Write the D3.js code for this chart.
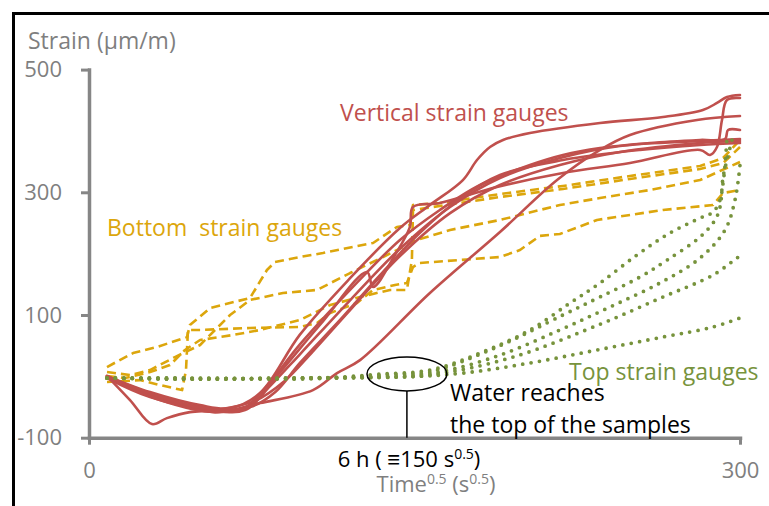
<!DOCTYPE html>
<html>
<head>
<meta charset="utf-8">
<script src="https://cdn.jsdelivr.net/npm/d3@7"></script>
<style>
  body { margin: 0; background: #fff; }
  svg { display: block; font-family: "Open Sans", sans-serif; }
</style>
</head>
<body>
<svg id="chart" width="769" height="506"></svg>
<script>
// x = time^0.5 (s^0.5), y = strain (µm/m)
const xTicks = [0, 300];
const yTicks = [500, 300, 100, -100];

// vertical strain gauges (red, solid)
const vert1 = [[8.3,0.4],[28.1,-25.6],[51.2,-46.9],[65,-51.8],[78.8,-27.3],[97.2,68],[120.3,160],[143.3,241.8],[157.1,279.3],[172.3,320],[178.8,352.6],[184.8,373.8],[190.8,385.3],[203.2,396.6],[235.5,413],[264.5,422.7],[282.9,434.1],[289.4,445.6],[294,455.3],[300,458.6]];
const vert2 = [[8.3,0.4],[28.1,-30.5],[51.2,-50.1],[69.6,-55],[81.1,-19.1],[97.2,52],[120.3,140.8],[143.3,222.3],[161.7,271.2],[180.2,311.9],[203.2,344.5],[218.4,360.8],[235.5,372.2],[258.5,380.4],[281.6,385.3],[293.1,386.9],[294.5,401.5],[300,401.5]];
const vert3 = [[8.3,-2.8],[28.1,-33.8],[55.8,-55],[71.9,-55],[83.4,-16],[97.2,36],[120.3,124],[143.3,208],[166.4,276],[189.4,323.3],[217,355.9],[244.7,375.5],[281.6,383.6],[300,386.9]];
const vert4 = [[8.3,0.4],[32.7,-35.4],[58.1,-58.3],[74.2,-46.9],[85.7,-2.8],[106.4,83.7],[128.1,170.1],[130.9,145.6],[141,197.8],[147.9,243.5],[149.3,276.1],[161.7,282.6],[188,308.6],[218.4,331.5],[249.3,347.7],[281.6,369],[286.2,360.8],[289.4,373.8],[291.7,417.8],[294,450.4],[300,453.7]];
const vert5 = [[8.3,0.4],[32.7,-38.7],[58.1,-58.3],[78.8,-43.6],[103.2,-22.4],[114.3,5.3],[124.9,26.5],[157.1,135.9],[189.4,235.3],[215.7,320],[235.5,369],[249.3,393.4],[280.2,417.8],[300,424.4]];
const vert6 = [[8.3,0.4],[18.9,-38.7],[29,-77.8],[35.9,-68.1],[46.5,-58.3],[58.1,-55],[76.5,-40],[90,-8],[103,40],[120.3,108],[143.3,196],[166.4,266],[189.4,311.9],[217,344.5],[244.7,365.7],[281.6,380.4],[300,383.6]];
const vert7 = [[8.3,0.4],[28.1,-27.3],[53.4,-51.8],[74.2,-50],[86,-25],[97.2,22],[115.7,92],[134.1,165],[152.5,234],[171,290],[189.4,328.2],[218.4,352.6],[253.9,369],[281.6,377.1],[300,380.4]];

// bottom strain gauges (gold, dashed)
const bot1 = [[8.3,15.2],[20.3,38],[31.3,47.8],[45.2,64.1],[46.5,83.7],[55.8,111.4],[74.2,127.7],[82,173.3],[85.7,186.4],[97.2,194.5],[107.8,201],[130.9,217.4],[141.9,243.5],[147.9,246.7],[149.3,279.3],[161.7,282.6],[189.4,297.2],[218.4,310.3],[249.3,326.6],[281.6,342.8],[292.2,355.9],[300,385.3]];
const bot2 = [[8.3,-9.3],[23.5,-6.1],[32.7,-14.2],[42.9,-22.4],[44.7,10.2],[45.6,75.6],[51.2,75.6],[74.2,78.8],[97.2,80.5],[105.1,87],[111.1,103.3],[123.5,119.6],[130.9,140.8],[141,148.9],[146.5,152.2],[149.3,178.2],[152.5,184.8],[189.4,194.5],[198.6,205.9],[207.8,229],[217,232.1],[234.1,254.9],[264.5,271.2],[287.6,279.3],[292.2,298.9],[300,303.7]];
const bot3 = [[8.3,7],[18.9,2.1],[28.1,10.2],[39.6,31.4],[51.2,51.1],[58.1,75.6],[65,100],[74.2,124.5],[89.4,135.9],[105.1,140.8],[120.3,168.4],[135.5,194.5],[151.1,222.3],[166.4,238.6],[189.4,254.9],[217,279.3],[235.5,290.7],[258.5,303.7],[281.6,320],[300,349.4]];
const bot4 = [[8.3,0.4],[16.6,-2.8],[28.1,7],[37.3,18.4],[44.2,42.9],[51.2,59.2],[66.4,67.4],[78.8,75.6],[97.2,91.8],[111.1,116.3],[124.9,129.4],[138.7,140.8],[146.5,140.8],[148.8,189.6],[149.3,271.2],[161.7,277.7],[189.4,292.3],[218.4,305.4],[249.3,321.7],[281.6,338],[292.2,347.7],[300,373.8]];

// top strain gauges (green, dotted)
const top1 = [[8.3,-2.8],[51.2,-4.5],[97.2,-2.8],[115.7,-1.2],[134.1,3.7],[157.1,10.2],[180.2,38],[203.2,75.6],[221.7,119.6],[235.5,152.2],[252.5,197.8],[267.7,233.7],[281.6,258.1],[287.6,267.9],[290.8,287.5],[292.2,315.2],[293.1,344.5],[294,388.5]];
const top2 = [[8.3,-2.8],[51.2,-2.8],[97.2,-4.5],[120.3,-1.2],[143.3,3.7],[157.1,7],[188,47.8],[218.4,100],[235.5,129.4],[253.9,161.9],[266.4,189.6],[281.6,227.2],[288.5,254.9],[290.8,276.1],[292.2,325],[294,352.6],[296.3,385.3]];
const top3 = [[8.3,-2.8],[51.2,-4.5],[97.2,-2.8],[134.1,-1.2],[157.1,2.1],[195.4,31.4],[236.9,87],[264.5,129.4],[287.6,165.2],[298.6,192.9],[300,196.1]];
const top4 = [[8.3,-2.8],[51.2,-4.5],[97.2,-2.8],[143.3,-1.2],[172.3,5.3],[203.2,21.8],[234.1,42.9],[264.5,64.1],[287.6,80.5],[300,95.1]];
const top5 = [[8.3,-2.8],[97.2,-2.8],[143.3,0.4],[161.7,7],[189.4,34.7],[217,75.6],[240.1,113.1],[263.1,152.2],[281.6,192.9],[293.1,238.6],[297.7,287.5],[300,344.5]];

const verticalGauges = [vert1, vert2, vert3, vert4, vert5, vert6, vert7];
const bottomGauges = [bot1, bot2, bot3, bot4];
const topGauges = [top1, top2, top3, top4, top5];

const red = "#C0504D", gold = "#DCA60C", green = "#77933C";
const axisColor = "#868686", textGray = "#7F7F7F";

const svg = d3.select("#chart");

const x = d3.scaleLinear().domain([0, 300]).range([89, 740]);
const y = d3.scaleLinear().domain([-100, 500]).range([437.7, 69.6]);

// outer frame (cut off at right and bottom)
svg.append("rect")
    .attr("x", 13.5).attr("y", 13.5)
    .attr("width", 900).attr("height", 700)
    .attr("fill", "none").attr("stroke", "#000").attr("stroke-width", 3);

// axes
const yAxis = d3.axisLeft(y).tickValues(yTicks).tickSizeInner(8).tickSizeOuter(0)
    .tickPadding(19).tickFormat(d => String(d));
const xAxis = d3.axisBottom(x).tickValues(xTicks).tickSizeInner(7).tickSizeOuter(0)
    .tickPadding(18).tickFormat(d => String(d));

const gy = svg.append("g").attr("transform", `translate(${x(0)},0)`).call(yAxis);
const gx = svg.append("g").attr("transform", `translate(0,${y(-100)})`).call(xAxis);

[gx, gy].forEach(g => {
    g.attr("font-family", null).attr("font-size", null);
    g.select(".domain").attr("stroke", axisColor).attr("stroke-width", 3.5).attr("stroke-linecap", "square");
    g.selectAll(".tick line").attr("stroke", axisColor).attr("stroke-width", 3);
    g.selectAll(".tick text").attr("fill", textGray).style("font-size", "22px");
});

// series
const line = d3.line().x(d => x(d[0])).y(d => y(d[1]));
const smooth = d3.line().x(d => x(d[0])).y(d => y(d[1])).curve(d3.curveCatmullRom.alpha(0.5));

svg.append("g").selectAll("path").data(bottomGauges).enter().append("path")
    .attr("d", line)
    .attr("fill", "none").attr("stroke", gold).attr("stroke-width", 2.6)
    .attr("stroke-dasharray", "9,5").attr("stroke-linejoin", "round");

svg.append("g").selectAll("path").data(verticalGauges).enter().append("path")
    .attr("d", smooth)
    .attr("fill", "none").attr("stroke", red).attr("stroke-width", 2.6)
    .attr("stroke-linejoin", "round").attr("stroke-linecap", "round");

svg.append("g").selectAll("path").data(topGauges).enter().append("path")
    .attr("d", smooth)
    .attr("fill", "none").attr("stroke", green).attr("stroke-width", 3.8)
    .attr("stroke-dasharray", "0,8.5").attr("stroke-linecap", "round");

// annotation: water reaches the top
svg.append("ellipse")
    .attr("cx", x(146.5)).attr("cy", y(4))
    .attr("rx", x(18.4) - x(0)).attr("ry", y(0) - y(27.7))
    .attr("fill", "none").attr("stroke", "#000").attr("stroke-width", 1.5);
svg.append("line")
    .attr("x1", x(146.5)).attr("x2", x(146.5))
    .attr("y1", y(4) + (y(0) - y(27.7))).attr("y2", y(-100))
    .attr("stroke", "#000").attr("stroke-width", 1.5);

// texts
const label = (tx, ty, txt, color, size, anchor) => svg.append("text")
    .attr("x", tx).attr("y", ty).attr("fill", color)
    .attr("text-anchor", anchor || "start")
    .style("font-size", size + "px").style("white-space", "pre")
    .text(txt);

label(28, 49, "Strain (µm/m)", textGray, 23);
label(340, 121, "Vertical strain gauges", red, 23);
label(107, 236, "Bottom  strain gauges", gold, 23);
label(569, 380, "Top strain gauges", green, 23);
label(450, 401, "Water reaches", "#000", 23);
label(450, 433, "the top of the samples", "#000", 23);

const sixH = label(409, 467, "6 h ( ≡150 s", "#000", 22, "middle");
sixH.append("tspan").attr("dy", -8).style("font-size", "14px").text("0.5");
sixH.append("tspan").attr("dy", 8).text(")");

const xTitle = label(436, 492, "Time", textGray, 22, "middle");
xTitle.append("tspan").attr("dy", -8).style("font-size", "14px").text("0.5");
xTitle.append("tspan").attr("dy", 8).text(" (s");
xTitle.append("tspan").attr("dy", -8).style("font-size", "14px").text("0.5");
xTitle.append("tspan").attr("dy", 8).text(")");
</script>
</body>
</html>
